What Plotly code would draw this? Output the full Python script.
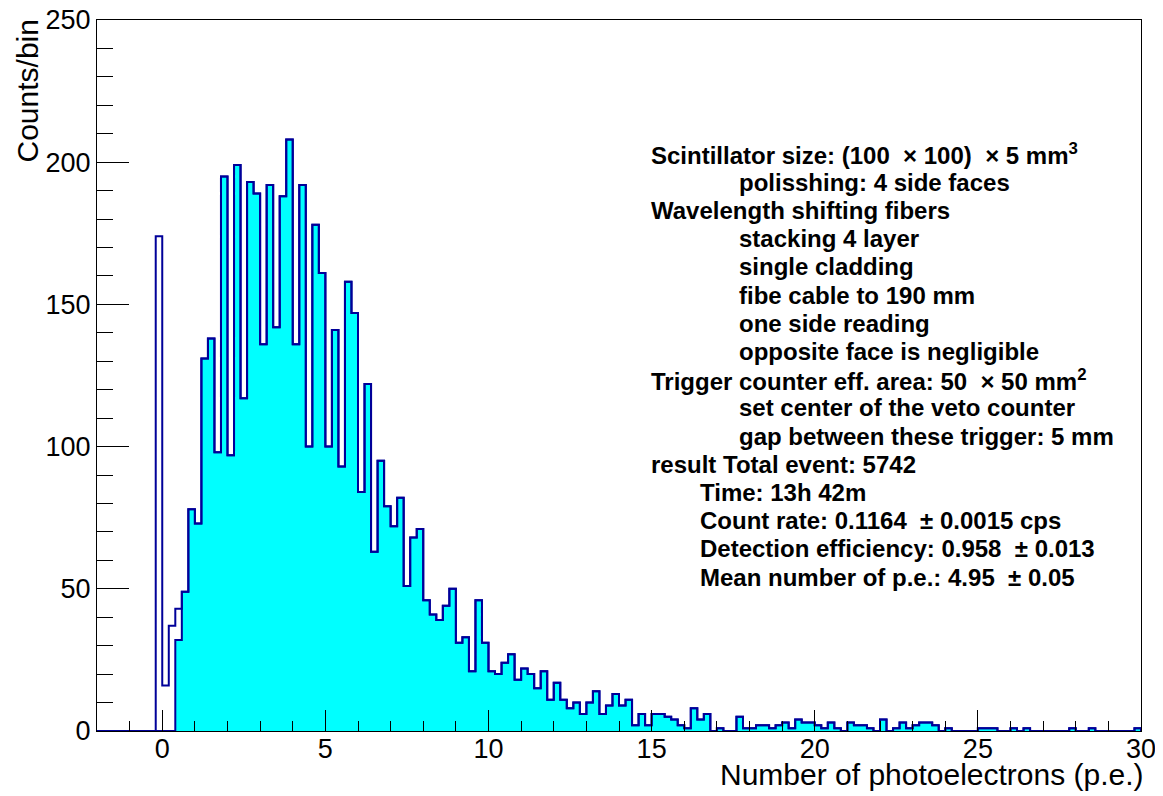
import plotly.graph_objects as go

# ---------------- data ----------------
X_MIN, X_MAX = -2.0, 30.0
Y_MIN, Y_MAX = 0.0, 250.0
BIN_LOW = -0.2      # lower edge of first bin
BIN_WIDTH = 0.2     # p.e. per bin

# all events (outline histogram), bins from -0.2 p.e. in 0.2 p.e. steps
all_counts = [174, 16, 37, 43, 49, 78, 73, 131, 138, 98,
              195, 97, 199, 117, 193, 189, 136, 192, 142, 188,
              208, 136, 192, 100, 178, 161, 100, 141, 93, 158,
              147, 84, 122, 63, 95, 79, 72, 82, 51, 68,
              71, 46, 41, 39, 44, 50, 31, 33, 21, 46,
              31, 21, 20, 24, 27, 18, 22, 20, 15, 21,
              11, 17, 11, 8, 10, 6, 10, 14, 6, 9,
              13, 9, 11, 2, 6, 2, 6, 6, 5, 4,
              2, 1, 8, 4, 6, 0, 1, 0, 0, 5,
              1, 1, 2, 2, 1, 2, 3, 1, 4, 3,
              3, 2, 1, 3, 1, 0, 3, 2, 2, 1,
              0, 4, 0, 1, 3, 1, 2, 3, 3, 2,
              0, 1, 0, 0, 0, 0, 1, 1, 1, 0,
              0, 1, 0, 1, 0, 0, 0, 0, 0, 0,
              1, 0, 0, 1, 0, 0, 0, 0, 0, 0,
              1]

# events above threshold (filled histogram)
selected_head = [0, 0, 0, 32]
selected_counts = selected_head + all_counts[len(selected_head):]

x_ticks = [0, 5, 10, 15, 20, 25, 30]
y_ticks = [0, 50, 100, 150, 200, 250]

x_title = "Number of photoelectrons (p.e.)"
y_title = "Counts/bin"

info_lines = [
    "Scintillator size: (100 \u00a0\u00d7 100) \u00a0\u00d7 5 mm<sup>3</sup>",
    "polisshing: 4 side faces",
    "Wavelength shifting fibers",
    "stacking 4 layer",
    "single cladding",
    "fibe cable to 190 mm",
    "one side reading",
    "opposite face is negligible",
    "Trigger counter eff. area: 50 \u00a0\u00d7 50 mm<sup>2</sup>",
    "set center of the veto counter",
    "gap between these trigger: 5 mm",
    "result Total event: 5742",
    "Time: 13h 42m",
    "Count rate: 0.1164 \u00a0\u00b1 0.0015 cps",
    "Detection efficiency: 0.958 \u00a0\u00b1 0.013",
    "Mean number of p.e.: 4.95 \u00a0\u00b1 0.05",
]

# ---------------- layout / style ----------------
PAGE_W, PAGE_H = 1163, 796
BODY_OFFSET = 8                      # default browser body margin
FRAME_L, FRAME_R, FRAME_T, FRAME_B = 97, 1141, 20, 731   # page pixels
W = PAGE_W - BODY_OFFSET
H = PAGE_H - BODY_OFFSET
M_L = FRAME_L - BODY_OFFSET
M_T = FRAME_T - BODY_OFFSET
M_R = BODY_OFFSET + W - FRAME_R
M_B = BODY_OFFSET + H - FRAME_B
PLOT_H = FRAME_B - FRAME_T

LINE_BLUE = "#000099"
FILL_CYAN = "#00ffff"
FONT = "Liberation Sans"
TEXT_SIZE = 24
LABEL_SIZE = 27
TITLE_SIZE = 30

# indentation of each text line (x in data units)
indent_x = [15.0, 17.7, 15.0, 17.7, 17.7, 17.7, 17.7, 17.7,
            15.0, 17.7, 17.7, 15.0, 16.5, 16.5, 16.5, 16.5]
TEXT_TOP_PX = 154
TEXT_STEP_PX = 28.2


def step_xy(counts):
    edges = [BIN_LOW + BIN_WIDTH * i for i in range(len(counts) + 1)]
    xs = [X_MIN] + edges + [X_MAX]
    ys = [0] + list(counts) + [0, 0]
    return xs, ys


fig = go.Figure()

xs, ys = step_xy(selected_counts)
fig.add_trace(go.Scatter(x=xs, y=ys, mode="lines", line_shape="hv",
                         line=dict(color=LINE_BLUE, width=2),
                         fill="tozeroy", fillcolor=FILL_CYAN,
                         hoverinfo="skip"))

xs, ys = step_xy(all_counts)
fig.add_trace(go.Scatter(x=xs, y=ys, mode="lines", line_shape="hv",
                         line=dict(color=LINE_BLUE, width=2),
                         hoverinfo="skip"))

annotations = []
for k, (txt, xi) in enumerate(zip(info_lines, indent_x)):
    ypx = TEXT_TOP_PX + TEXT_STEP_PX * k
    annotations.append(dict(
        x=xi, xref="x", xanchor="left", xshift=-3,
        y=1 - (ypx - FRAME_T) / PLOT_H, yref="paper", yanchor="middle",
        text=txt, showarrow=False,
        font=dict(family=FONT, size=TEXT_SIZE, color="black", weight="bold"),
    ))

annotations.append(dict(
    x=1, xref="paper", xanchor="right", xshift=5,
    y=0, yref="paper", yanchor="top", yshift=-25,
    text=x_title, showarrow=False,
    font=dict(family=FONT, size=TITLE_SIZE, color="black"),
))
annotations.append(dict(
    x=0, xref="paper", xshift=-70, xanchor="center",
    y=1, yref="paper", yanchor="top", yshift=2,
    text=y_title, textangle=-90, showarrow=False,
    font=dict(family=FONT, size=TITLE_SIZE, color="black"),
))

axis_common = dict(
    showline=True, linecolor="black", linewidth=1, mirror=True,
    showgrid=False, zeroline=False, automargin=False,
    ticks="inside", tickcolor="black", tickwidth=1,
    tickfont=dict(family=FONT, size=LABEL_SIZE, color="black"),
    ticklabeloverflow="allow",
)

fig.update_layout(
    width=W, height=H,
    margin=dict(l=M_L, r=M_R, t=M_T, b=M_B, autoexpand=False),
    plot_bgcolor="white", paper_bgcolor="white",
    showlegend=False,
    annotations=annotations,
    xaxis=dict(range=[X_MIN, X_MAX], tickvals=x_ticks, ticklen=21,
               ticklabelstandoff=-6,
               minor=dict(dtick=1, tick0=0, ticklen=10, ticks="inside",
                          tickcolor="black", tickwidth=1, showgrid=False),
               **axis_common),
    yaxis=dict(range=[Y_MIN, Y_MAX], tickvals=y_ticks, ticklen=32,
               minor=dict(dtick=10, tick0=0, ticklen=16, ticks="inside",
                          tickcolor="black", tickwidth=1, showgrid=False),
               **axis_common),
)

fig.write_html("out.html")
